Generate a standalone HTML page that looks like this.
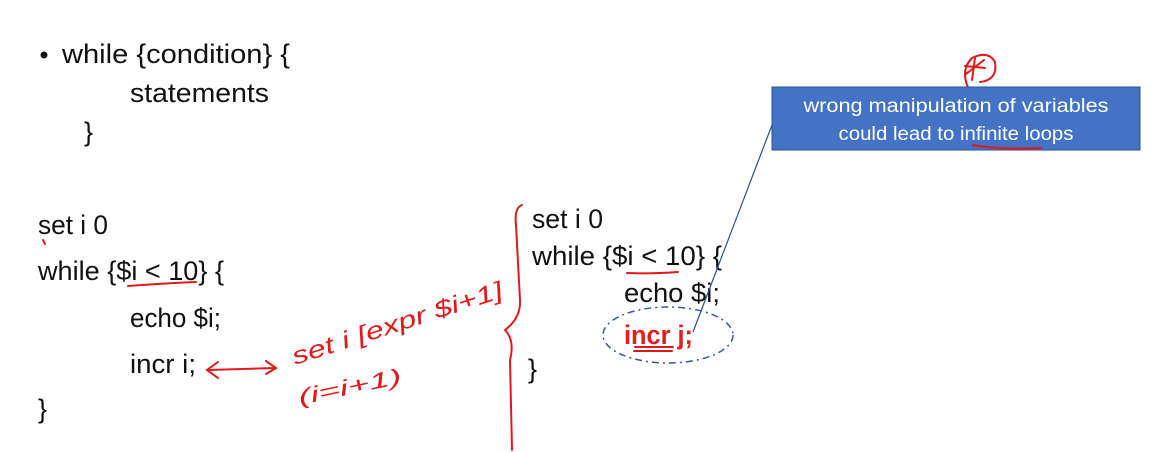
<!DOCTYPE html>
<html><head><meta charset="utf-8"><style>
html,body{margin:0;padding:0;background:#fff;width:1161px;height:452px;overflow:hidden}
svg{display:block}
text{font-family:"Liberation Sans",sans-serif;fill:#111}
</style></head><body>
<svg width="1161" height="452" viewBox="0 0 1161 452" xmlns="http://www.w3.org/2000/svg">
<rect width="1161" height="452" fill="#fff"/>
<circle cx="44" cy="55" r="3.5" fill="#111"/>
<text x="62" y="63" font-size="27" textLength="228" lengthAdjust="spacingAndGlyphs">while {condition} {</text>
<text x="130" y="102" font-size="27" textLength="139" lengthAdjust="spacingAndGlyphs">statements</text>
<text x="84" y="141" font-size="27">}</text>

<text x="38" y="234" font-size="27" textLength="70" lengthAdjust="spacingAndGlyphs">set i 0</text>
<text x="38" y="280" font-size="27" textLength="186" lengthAdjust="spacingAndGlyphs">while {$i &lt; 10} {</text>
<text x="130" y="327" font-size="27" textLength="91" lengthAdjust="spacingAndGlyphs">echo $i;</text>
<text x="130" y="373" font-size="27" textLength="66" lengthAdjust="spacingAndGlyphs">incr i;</text>
<text x="38" y="418" font-size="27">}</text>

<text x="532" y="228" font-size="27" textLength="71" lengthAdjust="spacingAndGlyphs">set i 0</text>
<text x="532" y="265" font-size="27" textLength="190" lengthAdjust="spacingAndGlyphs">while {$i &lt; 10} {</text>
<text x="624" y="302" font-size="27" textLength="96" lengthAdjust="spacingAndGlyphs">echo $i;</text>
<text x="624" y="344" font-size="27" font-weight="bold" style="fill:#e02020" textLength="69" lengthAdjust="spacingAndGlyphs">incr j;</text>
<text x="528" y="378" font-size="27">}</text>

<g fill="none" stroke="#e01a1a" stroke-width="2" stroke-linecap="round">
<path d="M128 286 Q170 283 196 282"/>
<path d="M627 273 Q650 274 678 272"/>
<path d="M635 347 L673 347 M634 351 L672 351"/>
<path d="M208 370 L275 368 M218 362 L207 370 L218 378 M266 361 L276 368 L266 374"/>
<text x="295" y="365" font-size="24" font-style="italic" transform="rotate(-18 295 365)" style="fill:#e01a1a;stroke:none" textLength="220" lengthAdjust="spacingAndGlyphs">set i [expr $i+1]</text>
<text x="300" y="405" font-size="22" font-style="italic" transform="rotate(-12 300 405)" style="fill:#e01a1a;stroke:none" textLength="105" lengthAdjust="spacingAndGlyphs">(i=i+1)</text>
<path d="M522 205 Q514 208 516 225 L520 300 Q521 318 505 330 Q515 340 510 360 L512 450"/>
<path d="M972 95 Q958 72 972 58 Q988 50 995 62 Q998 80 980 82 M965 66 L985 68 M975 58 L972 80 M966 74 L984 60"/>
<path d="M43 240 L45 244"/>
</g>
<rect x="772" y="87" width="368" height="63" fill="#4472c4" stroke="#2f528f" stroke-width="1"/>
<text x="956" y="112" font-size="19" text-anchor="middle" style="fill:#fff" textLength="305" lengthAdjust="spacingAndGlyphs">wrong manipulation of variables</text>
<text x="956" y="140" font-size="19" text-anchor="middle" style="fill:#fff" textLength="235" lengthAdjust="spacingAndGlyphs">could lead to infinite loops</text>
<path d="M972 145 Q1000 150 1042 148" fill="none" stroke="#e01a1a" stroke-width="2"/>
<line x1="772" y1="125" x2="693" y2="332" stroke="#2f4f8f" stroke-width="1.2"/>
<ellipse cx="668" cy="335" rx="65" ry="28" fill="none" stroke="#3a5a9a" stroke-width="1.5" stroke-dasharray="7 4 2 4"/>
</svg>
</body></html>
